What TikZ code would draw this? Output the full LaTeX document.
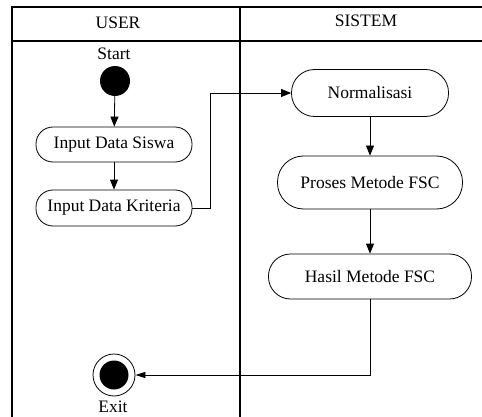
\documentclass[tikz,border=0pt]{standalone}
\usepackage{fontspec}
\setmainfont{Liberation Serif}
\usetikzlibrary{arrows.meta}
\tikzset{
  txt/.style={font=\fontsize{17.5}{20}\selectfont},
  act/.style={txt, draw, line width=0.8pt, inner sep=0pt},
  flow/.style={line width=0.8pt, -{Triangle[length=10pt,width=8pt]}},
  lane/.style={line width=1.2pt}
}
\begin{document}
\begin{tikzpicture}[x=1pt,y=-1pt]
\useasboundingbox (0,0) rectangle (482,417);
% swimlanes
\draw[lane] (12,417) -- (12,7) -- (482,7);
\draw[line width=1.8pt] (12,41) -- (482,41);
\draw[lane] (240,7) -- (240,417);
\node[txt] (user) at (118,23) {USER};
\node[txt] (sistem) at (366,20.5) {SISTEM};
% user
\node[txt] (startlbl) at (114,54) {Start};
\node[circle, fill, minimum size=30pt, inner sep=0pt] (start) at (115,81) {};
\node[act, rounded corners=17pt, minimum width=156pt, minimum height=35pt] (siswa) at (114,144.5) {Input Data Siswa};
\node[act, rounded corners=17pt, minimum width=156pt, minimum height=36pt] (kriteria) at (114,208) {Input Data Kriteria};
\node[circle, draw, line width=0.8pt, minimum size=42pt, inner sep=0pt] (exit) at (114,375) {};
\node[circle, fill, minimum size=29pt, inner sep=0pt] (exitdot) at (exit) {};
\node[txt] (exitlbl) at (113,407) {Exit};
% sistem
\node[act, rounded corners=23pt, minimum width=157pt, minimum height=47pt] (norm) at (370,93) {Normalisasi};
\node[act, rounded corners=26pt, minimum width=185pt, minimum height=53pt] (proses) at (370,182.5) {Proses Metode FSC};
\node[act, rounded corners=22pt, minimum width=203pt, minimum height=45pt] (hasil) at (370,276.5) {Hasil Metode FSC};
% alur
\draw[flow] (start) -- (siswa);
\draw[flow] (siswa) -- (kriteria);
\draw[flow] (kriteria.east) -- ++(18,0) |- (norm.west);
\draw[flow] (norm) -- (proses);
\draw[flow] (proses) -- (hasil);
\draw[line width=0.8pt, -{Triangle[length=10pt,width=6pt]}] (hasil.south) |- (exit.east);
\end{tikzpicture}
\end{document}
